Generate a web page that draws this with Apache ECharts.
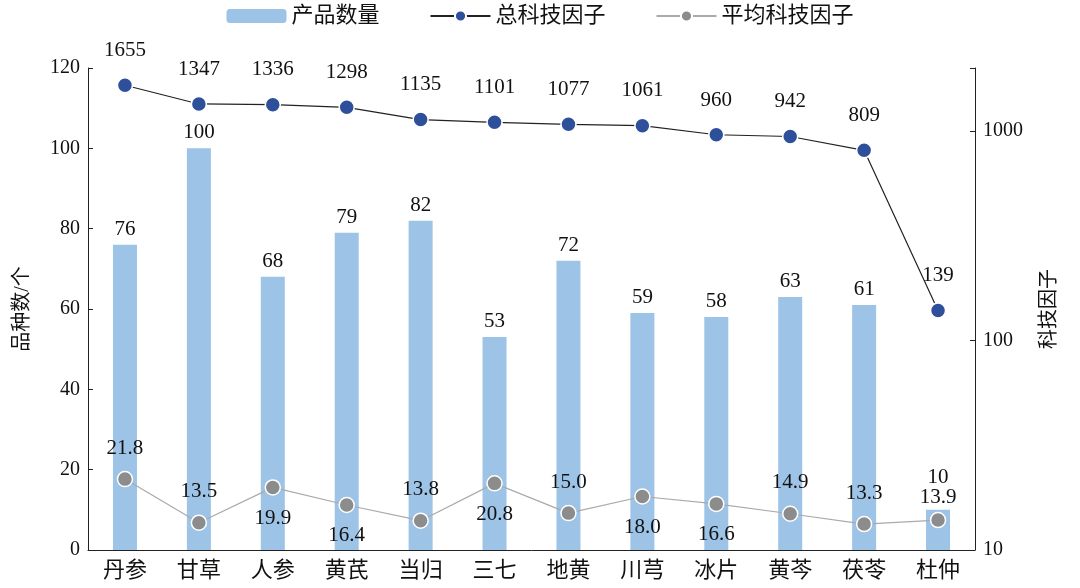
<!DOCTYPE html>
<html><head><meta charset="utf-8">
<script src="https://cdn.jsdelivr.net/npm/echarts@6/dist/echarts.min.js"></script>
<style>html,body{margin:0;padding:0;background:#fff}#c{width:1080px;height:588px}</style>
</head><body><div id="c"></div>
<script>
const categories=['丹参','甘草','人参','黄芪','当归','三七','地黄','川芎','冰片','黄芩','茯苓','杜仲'];
const productCount=[76,100,68,79,82,53,72,59,58,63,61,10];
const totalFactor=[1655,1347,1336,1298,1135,1101,1077,1061,960,942,809,139];
const avgFactor=[21.8,13.5,19.9,16.4,13.8,20.8,15.0,18.0,16.6,14.9,13.3,13.9];
const avgLabelPos=['top','top','bottom','bottom','top','bottom','top','bottom','bottom','top','top','top'];
const rightTicks=[10,100,1000];
const F='"Liberation Serif","Noto Sans CJK SC",serif';
const chart=echarts.init(document.getElementById('c'));
chart.setOption({
  textStyle:{fontFamily:F,color:'#111'},
  legend:{top:0,left:'center',itemGap:50,textStyle:{fontSize:22,fontFamily:F,color:'#111'},itemWidth:60,itemHeight:14,
    data:['产品数量','总科技因子','平均科技因子']},
  grid:{left:88,right:105,top:68,bottom:38},
  xAxis:{type:'category',data:categories,axisTick:{show:false},axisLine:{lineStyle:{color:'#222'}},
    axisLabel:{fontSize:22,color:'#111',fontFamily:F,margin:10}},
  yAxis:[
    {type:'value',min:0,max:120,interval:20,name:'品种数/个',nameLocation:'middle',nameGap:55,nameRotate:90,
      nameTextStyle:{fontSize:20,fontFamily:F,color:'#111'},splitLine:{show:false},
      axisLine:{show:true,lineStyle:{color:'#222'}},axisTick:{show:true,inside:true},
      axisLabel:{fontSize:20,color:'#111',fontFamily:F}},
    {type:'log',logBase:10,min:10,max:2000,name:'科技因子',nameLocation:'middle',nameGap:65,nameRotate:90,
      nameTextStyle:{fontSize:20,fontFamily:F,color:'#111'},splitLine:{show:false},
      axisLine:{show:true,lineStyle:{color:'#222'}},axisTick:{show:true,inside:true},
      axisLabel:{fontSize:20,color:'#111',fontFamily:F,formatter:v=>rightTicks.some(t=>Math.abs(t-v)<1e-6)?String(Math.round(v)):''}}
  ],
  series:[
    {name:'产品数量',type:'bar',data:productCount.map((v,i)=>i===11?{value:v,label:{distance:22}}:v),barWidth:24,itemStyle:{color:'#9dc3e6'},
      label:{show:true,position:'top',fontSize:21,color:'#111',fontFamily:F}},
    {name:'总科技因子',type:'line',yAxisIndex:1,data:totalFactor,symbol:'circle',symbolSize:15,
      lineStyle:{color:'#222',width:1.2},itemStyle:{color:'#2e4f9a',borderColor:'#fff',borderWidth:1.5},
      label:{show:true,position:'top',distance:16,fontSize:21,color:'#111',fontFamily:F}},
    {name:'平均科技因子',type:'line',yAxisIndex:1,symbol:'circle',symbolSize:15,
      data:avgFactor.map((v,i)=>({value:v,label:{position:avgLabelPos[i],distance:i===11?4:12}})),
      lineStyle:{color:'#aaa',width:1.2},itemStyle:{color:'#8c8c8c',borderColor:'#fff',borderWidth:1.5},
      label:{show:true,distance:12,fontSize:21,color:'#111',fontFamily:F,formatter:p=>p.value.toFixed(1)}}
  ]
});
</script></body></html>
